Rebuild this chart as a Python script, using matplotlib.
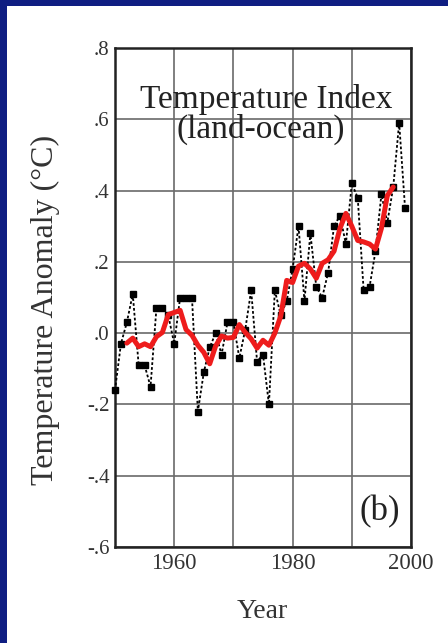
import matplotlib
matplotlib.use("Agg")
import matplotlib.pyplot as plt
from matplotlib.patches import Rectangle

years = list(range(1950, 2000))
annual = [-0.16, -0.03, 0.03, 0.11, -0.09, -0.09, -0.15, 0.07, 0.07, 0.05,
          -0.03, 0.10, 0.10, 0.10, -0.22, -0.11, -0.04, 0.00, -0.06, 0.03,
          0.03, -0.07, 0.01, 0.12, -0.08, -0.06, -0.20, 0.12, 0.05, 0.09,
          0.18, 0.30, 0.09, 0.28, 0.13, 0.10, 0.17, 0.30, 0.33, 0.25,
          0.42, 0.38, 0.12, 0.13, 0.23, 0.39, 0.31, 0.41, 0.59, 0.35]

smooth_years = list(range(1952, 1998))
smooth = [-0.028, -0.014, -0.038, -0.030, -0.038, -0.010, 0.002, 0.052, 0.058, 0.064,
          0.010, -0.006, -0.034, -0.054, -0.086, -0.036, -0.008, -0.014, -0.012, 0.024,
          0.002, -0.016, -0.042, -0.020, -0.034, 0.000, 0.048, 0.148, 0.142, 0.188,
          0.196, 0.180, 0.154, 0.196, 0.206, 0.230, 0.294, 0.336, 0.300, 0.260,
          0.256, 0.250, 0.236, 0.294, 0.386, 0.410]

xticks = [1960, 1980, 2000]
xticklabels = ["1960", "1980", "2000"]
yticks = [-0.6, -0.4, -0.2, 0.0, 0.2, 0.4, 0.6, 0.8]
yticklabels = ["-.6", "-.4", "-.2", ".0", ".2", ".4", ".6", ".8"]

W, H = 448, 643
fig = plt.figure(figsize=(W / 100, H / 100), dpi=100)
fig.patch.set_facecolor("white")
blue = "#0f1e82"
fig.patches.append(Rectangle((0, 1 - 6 / H), 1, 6 / H, transform=fig.transFigure,
                             facecolor=blue, edgecolor="none", zorder=0))
fig.patches.append(Rectangle((0, 0), 7 / W, 1, transform=fig.transFigure,
                             facecolor=blue, edgecolor="none", zorder=0))

serif = ["Liberation Serif", "DejaVu Serif"]
ax = fig.add_axes([115 / W, 96 / H, 296 / W, 499 / H])
ax.set_xlim(1950, 2000)
ax.set_ylim(-0.6, 0.8)
ax.set_xticks(xticks)
ax.set_xticks([1970, 1990], minor=True)
ax.set_xticklabels(xticklabels, fontfamily=serif, fontsize=16.5, color="#333333")
ax.set_yticks(yticks)
ax.set_yticklabels(yticklabels, fontfamily=serif, fontsize=15, color="#333333")
ax.tick_params(axis="both", which="both", length=0, pad=4)
ax.grid(True, which="both", color="#6a6a6a", linewidth=1.2)
ax.set_axisbelow(True)
for s in ax.spines.values():
    s.set_linewidth(1.8)
    s.set_color("#222222")

ax.plot(years, annual, color="black", linestyle=(0, (1.5, 1.2)), linewidth=1.3,
        marker="s", markersize=5, markerfacecolor="black", markeredgecolor="black",
        clip_on=False, zorder=3)
ax.plot(smooth_years, smooth, color="#ee1c1c", linewidth=3.6, zorder=4,
        solid_joinstyle="round", solid_capstyle="round")

ax.text(266 / W, 1 - 108 / H, "Temperature Index", transform=fig.transFigure,
        ha="center", va="baseline", fontfamily=serif, fontsize=24, color="#222222")
ax.text(261 / W, 1 - 138 / H, "(land-ocean)", transform=fig.transFigure,
        ha="center", va="baseline", fontfamily=serif, fontsize=24, color="#222222")
ax.text(380 / W, 1 - 512 / H, "(b)", transform=fig.transFigure,
        ha="center", va="center", fontfamily=serif, fontsize=25, color="#222222")

fig.text(45 / W, 1 - 310 / H, "Temperature Anomaly (°C)", rotation=90,
         ha="center", va="center", fontfamily=serif, fontsize=23, color="#333333")
fig.text(262 / W, 1 - 612 / H, "Year", ha="center", va="center",
         fontfamily=serif, fontsize=20, color="#333333")

fig.savefig("out.png", dpi=100, facecolor=fig.get_facecolor())
